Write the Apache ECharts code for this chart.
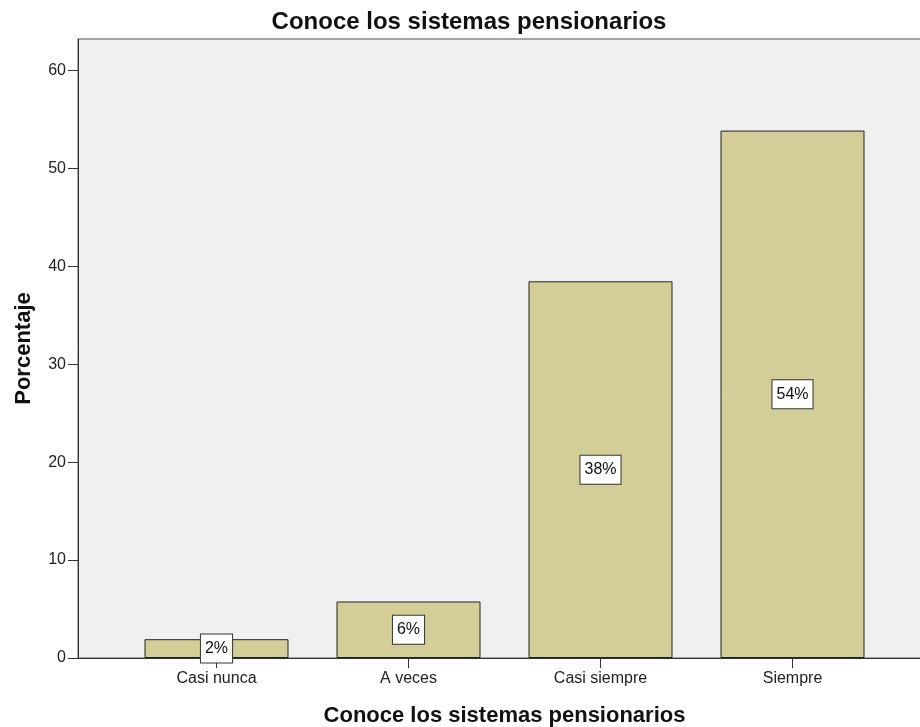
<!DOCTYPE html>
<html>
<head>
<meta charset="utf-8">
<script src="https://cdn.jsdelivr.net/npm/echarts@6/dist/echarts.min.js"></script>
<style>
  html, body { margin: 0; padding: 0; background: #fff; }
  #chart { width: 920px; height: 727px; }
</style>
</head>
<body>
<div id="chart"></div>
<script>
// datos del grafico
var categorias = ["Casi nunca", "A veces", "Casi siempre", "Siempre"];
var porcentajes = [1.92, 5.77, 38.46, 53.85];
var marcasY = [0, 10, 20, 30, 40, 50, 60];

var fuente = "'Liberation Sans', Arial, sans-serif";
var chart = echarts.init(document.getElementById("chart"));

var option = {
  animation: false,
  backgroundColor: "#fff",
  textStyle: { fontFamily: fuente },
  title: {
    text: "Conoce los sistemas pensionarios",
    left: 464,
    top: 5,
    textAlign: "center",
    textStyle: { fontFamily: fuente, fontSize: 24, fontWeight: "bold", color: "#111" },
  },
  grid: [
    // area de fondo con eje Y
    {
      left: 78, right: -2, top: 39, bottom: 69,
      outerBoundsMode: "none", containLabel: false,
      show: true, backgroundColor: "#f0f0f0",
      borderColor: "#555", borderWidth: 1,
    },
    // area de las barras
    {
      left: 120.5, right: 31.5, top: 39, bottom: 69,
      outerBoundsMode: "none", containLabel: false,
    },
  ],
  xAxis: [
    {
      gridIndex: 0, type: "category", data: categorias,
      axisLine: { show: true, lineStyle: { color: "#333", width: 1 } },
      axisTick: { show: false }, axisLabel: { show: false },
    },
    {
      gridIndex: 1, type: "category", data: categorias,
      name: "Conoce los sistemas pensionarios",
      nameLocation: "middle", nameGap: 47,
      nameTextStyle: { fontFamily: fuente, fontSize: 22, fontWeight: "bold", color: "#111" },
      axisLine: { show: false },
      axisTick: { show: true, alignWithLabel: true, length: 10, lineStyle: { color: "#333" } },
      axisLabel: { fontSize: 16, color: "#222", margin: 13 },
    },
  ],
  yAxis: [
    {
      gridIndex: 0, type: "value", min: 0, max: 63.2,
      name: "Porcentaje", nameLocation: "middle", nameGap: 43,
      nameTextStyle: { fontFamily: fuente, fontSize: 22, fontWeight: "bold", color: "#111" },
      splitLine: { show: false },
      axisLine: { show: true, lineStyle: { color: "#333", width: 1 } },
      axisTick: { show: true, length: 10, customValues: marcasY, lineStyle: { color: "#333" } },
      axisLabel: { fontSize: 16, color: "#222", margin: 12, customValues: marcasY },
    },
    {
      gridIndex: 1, type: "value", min: 0, max: 63.2, show: false,
      splitLine: { show: false },
    },
  ],
  series: [
    {
      type: "bar",
      xAxisIndex: 1,
      yAxisIndex: 1,
      data: porcentajes,
      barWidth: "75%",
      itemStyle: { color: "#d3ce97", borderColor: "#222", borderWidth: 1 },
      label: {
        show: true,
        position: "inside",
        formatter: function (p) { return Math.round(p.value) + "%"; },
        fontFamily: fuente,
        fontSize: 16,
        color: "#111",
        backgroundColor: "#fff",
        borderColor: "#333",
        borderWidth: 1,
        padding: [5, 4],
        lineHeight: 18,
      },
    },
  ],
};

chart.setOption(option);
</script>
</body>
</html>
